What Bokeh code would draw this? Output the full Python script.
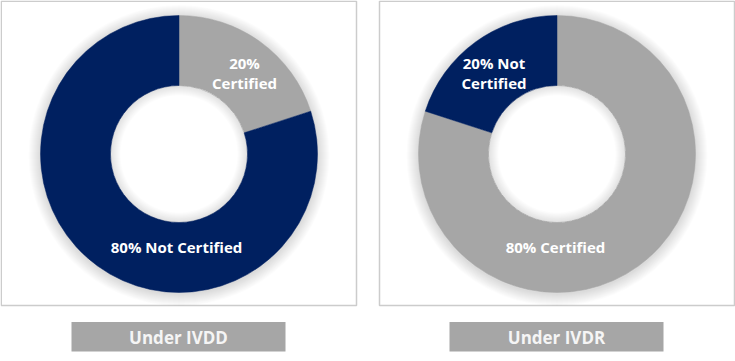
import math
from bokeh.plotting import figure
from bokeh.models import Range1d, ColumnDataSource
from bokeh.core.properties import value
from bokeh.embed import file_html
from bokeh.resources import INLINE

# ---- data ----
panel_titles = ["Under IVDD", "Under IVDR"]
categories = ["Certified", "Not Certified"]
certified_pct = [20, 80]        # per panel
not_certified_pct = [80, 20]    # per panel
slice_labels = [["20%\nCertified", "80% Not Certified"],
                ["80% Certified", "20% Not\nCertified"]]
colors = {"Certified": "#a6a6a6", "Not Certified": "#002060"}

W, H = 735, 361
p = figure(width=W, height=H, x_range=Range1d(0, W), y_range=Range1d(0, H),
           output_backend="svg", toolbar_location=None, min_border=0)
p.axis.visible = False
p.grid.visible = False
p.outline_line_color = None
p.background_fill_color = "white"
p.border_fill_color = "white"

def Y(y):
    return H - y

# layout (pixels, top-left origin); 1 data unit == 1 screen pixel
panels = [dict(x0=0.75, x1=356, cx=178.5, title_x0=71, title_x1=285),
          dict(x0=379, x1=734, cx=556.5, title_x0=449, title_x1=663)]
cy = 153.5
R_OUT, R_IN = 138.5, 68.5
label_pos = [[(244, 62, 82), (176, 246, None)],
             [(555, 246, None), (493.5, 62, 82)]]

for k, pan in enumerate(panels):
    # panel frame
    p.quad(left=[pan["x0"]], right=[pan["x1"]], top=[Y(0.75)], bottom=[Y(305)],
           fill_color=None, line_color="#cccccc", line_width=1.5)
    # soft shadows
    N = 12
    for i in range(N):
        p.annulus(x=[pan["cx"]], y=[Y(cy + 1.5)], inner_radius=R_OUT - 2,
                  outer_radius=R_OUT + (N - i) * 1.0,
                  fill_color="black", fill_alpha=0.012, line_color=None)
    # donut
    vals = [certified_pct[k], not_certified_pct[k]]
    total = sum(vals)
    cum = 0.0
    starts, ends, cols = [], [], []
    for cat, v in zip(categories, vals):
        a0 = math.pi / 2 - 2 * math.pi * cum / total
        cum += v
        a1 = math.pi / 2 - 2 * math.pi * cum / total
        starts.append(a0)
        ends.append(a1)
        cols.append(colors[cat])
    src = ColumnDataSource(dict(x=[pan["cx"]] * 2, y=[Y(cy)] * 2,
                                start=starts, end=ends, color=cols))
    p.annular_wedge(x="x", y="y", inner_radius=R_IN, outer_radius=R_OUT,
                    start_angle="start", end_angle="end",
                    direction="clock", fill_color="color", line_color="color",
                    line_width=0.5, source=src)
    # inner hole shadow
    for i in range(10):
        p.annulus(x=[pan["cx"]], y=[Y(cy)], inner_radius=R_IN - (10 - i) * 1.0,
                  outer_radius=R_IN,
                  fill_color="black", fill_alpha=0.012, line_color=None)
    # slice labels
    for lab, (lx, ly1, ly2) in zip(slice_labels[k], label_pos[k]):
        lines = lab.split("\n")
        ys = [ly1] if ly2 is None else [ly1, ly2]
        for line, ly in zip(lines, ys):
            p.text(x=[lx], y=[Y(ly)], text=[line], text_color="white",
                   text_font=value("Open Sans"), text_font_style="bold",
                   text_font_size="15px", text_align="center",
                   text_baseline="middle")
    # title box
    p.quad(left=[pan["title_x0"]], right=[pan["title_x1"]], top=[Y(321.5)],
           bottom=[Y(351)], fill_color="#a6a6a6", line_color=None)
    p.text(x=[(pan["title_x0"] + pan["title_x1"]) / 2], y=[Y(336.5)],
           text=[panel_titles[k]], text_color="#f5f5f5",
           text_font=value("Open Sans"), text_font_style="bold",
           text_font_size="17px", text_align="center", text_baseline="middle")

open("out.html", "w").write(file_html(p, INLINE))
